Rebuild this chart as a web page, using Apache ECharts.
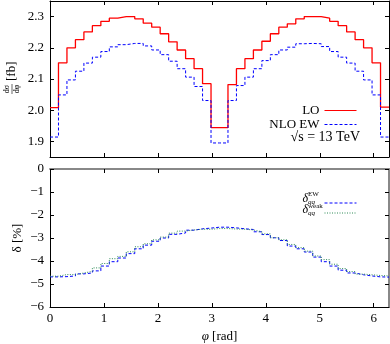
<!DOCTYPE html>
<html>
<head>
<meta charset="utf-8">
<script src="https://cdn.jsdelivr.net/npm/echarts@6/dist/echarts.min.js"></script>
<style>
  html, body { margin: 0; padding: 0; background: #fff; }
  #main { width: 390px; height: 344px; }
</style>
</head>
<body>
<div id="main"></div>
<script>
// 40 bins over 0..2pi
var nBins = 40;
var phiMax = 2 * Math.PI;

// dsigma/dphi [fb]
var loValues = [2.008, 2.152, 2.200, 2.226, 2.251, 2.271, 2.285, 2.295, 2.300, 2.300,
                2.293, 2.279, 2.266, 2.245, 2.219, 2.193, 2.165, 2.133, 2.085, 1.944,
                1.944, 2.082, 2.133, 2.165, 2.193, 2.221, 2.245, 2.266, 2.277, 2.293,
                2.300, 2.300, 2.295, 2.285, 2.271, 2.251, 2.226, 2.200, 2.152, 2.010];
var nloValues = [1.914, 2.049, 2.097, 2.125, 2.151, 2.170, 2.188, 2.203, 2.210, 2.214,
                 2.214, 2.206, 2.193, 2.178, 2.157, 2.133, 2.106, 2.076, 2.031, 1.895,
                 1.895, 2.031, 2.079, 2.106, 2.133, 2.159, 2.178, 2.193, 2.202, 2.213,
                 2.214, 2.213, 2.204, 2.188, 2.170, 2.151, 2.125, 2.097, 2.049, 1.914];

// relative corrections [%]
var ewValues = [-4.69, -4.68, -4.65, -4.56, -4.52, -4.43, -4.22, -4.03, -3.87, -3.68,
                -3.47, -3.31, -3.14, -3.00, -2.84, -2.78, -2.66, -2.60, -2.57, -2.53,
                -2.53, -2.56, -2.60, -2.63, -2.73, -2.85, -2.99, -3.11, -3.35, -3.47,
                -3.61, -3.83, -4.03, -4.22, -4.40, -4.52, -4.60, -4.65, -4.69, -4.70];
var weakValues = [-4.66, -4.59, -4.59, -4.52, -4.45, -4.30, -4.11, -3.90, -3.80, -3.60,
                  -3.38, -3.25, -3.08, -2.96, -2.79, -2.70, -2.65, -2.62, -2.62, -2.59,
                  -2.59, -2.61, -2.62, -2.65, -2.73, -2.82, -2.99, -3.08, -3.28, -3.42,
                  -3.57, -3.78, -3.94, -4.14, -4.33, -4.46, -4.57, -4.60, -4.63, -4.65];

// tick labels
var xTicks = [0, 1, 2, 3, 4, 5, 6];
var topYTicks = [1.9, 2.0, 2.1, 2.2, 2.3];
var bottomYTicks = [0, -1, -2, -3, -4, -5, -6];

var serif = 'Liberation Serif';

// histogram as step line: left edge of every bin + closing edge
function histData(vals) {
    var d = [];
    for (var i = 0; i < vals.length; i++) {
        d.push([i * phiMax / nBins, vals[i]]);
    }
    d.push([phiMax, vals[vals.length - 1]]);
    return d;
}

function xAx(grid, pos, labels, lineColor, lineWidth) {
    return {
        type: 'value', gridIndex: grid, position: pos, min: 0, max: phiMax,
        axisLine: { show: true, onZero: false, lineStyle: { color: lineColor || '#000', width: lineWidth || 1 } },
        axisTick: { show: true, inside: true, length: 4, customValues: xTicks, lineStyle: { color: '#000' } },
        axisLabel: { show: labels, customValues: xTicks, margin: 5, color: '#000', fontFamily: serif, fontSize: 13 },
        splitLine: { show: false }
    };
}

function yAx(grid, pos, min, max, ticks, labels, fmt, lineColor, lineWidth) {
    return {
        type: 'value', gridIndex: grid, position: pos, min: min, max: max,
        axisLine: { show: true, onZero: false, lineStyle: { color: lineColor || '#000', width: lineWidth || 1 } },
        axisTick: { show: true, inside: true, length: 4, customValues: ticks, lineStyle: { color: '#000' } },
        axisLabel: { show: labels, customValues: ticks, margin: 6, color: '#000', fontFamily: serif, fontSize: 13, formatter: fmt },
        splitLine: { show: false }
    };
}

var chart = echarts.init(document.getElementById('main'));

var option = {
    animation: false,
    backgroundColor: '#fff',
    grid: [
        { left: 50, right: 1, top: 1, height: 156 },
        { left: 50, right: 1, top: 169, height: 139 }
    ],
    xAxis: [
        xAx(0, 'bottom', false),
        xAx(0, 'top', false),
        Object.assign(xAx(1, 'bottom', true), {
            name: '{i|φ} [rad]', nameLocation: 'middle', nameGap: 23,
            nameTextStyle: { color: '#000', fontFamily: serif, fontSize: 13,
                rich: { i: { fontStyle: 'italic', fontFamily: serif, fontSize: 13 } } }
        }),
        xAx(1, 'top', false, '#888', 2)
    ],
    yAxis: [
        yAx(0, 'left', 1.85, 2.35, topYTicks, true, function (v) { return v.toFixed(1); }),
        yAx(0, 'right', 1.85, 2.35, topYTicks, false),
        yAx(1, 'left', -6, 0, bottomYTicks, true, function (v) { return v < 0 ? '\u2212' + (-v) : String(v); }),
        yAx(1, 'right', -6, 0, bottomYTicks, false, null, '#888', 2)
    ],
    legend: [
        {
            data: ['LO', 'NLO EW'], orient: 'vertical', right: 28, top: 99,
            align: 'right', itemWidth: 32, itemHeight: 10, itemGap: 1,
            itemStyle: { opacity: 0 }, lineStyle: { width: 1 },
            textStyle: { fontFamily: serif, fontSize: 13, color: '#000' }
        },
        {
            data: ['EW', 'weak'], orient: 'vertical', right: 28, top: 193,
            align: 'right', itemWidth: 32, itemHeight: 10, itemGap: 1,
            itemStyle: { opacity: 0 }, lineStyle: { width: 1 },
            formatter: function () { return ''; }
        }
    ],
    graphic: [
        {
            type: 'text', right: 30, top: 130,
            style: { text: '\u221As = 13 TeV', fontFamily: serif, fontSize: 14, fill: '#000' }
        },
        // dsigma/dphi label
        {
            type: 'group', x: 12, y: 94, rotation: Math.PI / 2,
            children: [
                { type: 'text', x: 5, y: -1, style: { text: 'dσ', fontFamily: serif, fontSize: 8, fill: '#000', align: 'center', verticalAlign: 'bottom' } },
                { type: 'line', shape: { x1: 0, y1: 0, x2: 10, y2: 0 }, style: { stroke: '#000', lineWidth: 0.6 } },
                { type: 'text', x: 5, y: 1, style: { text: 'dφ', fontFamily: serif, fontSize: 8, fill: '#000', align: 'center', verticalAlign: 'top' } },
                { type: 'text', x: 13, y: 0, style: { text: '[fb]', fontFamily: serif, fontSize: 13, fill: '#000', verticalAlign: 'middle' } }
            ]
        },
        // delta label
        {
            type: 'text', x: 18, y: 238, rotation: Math.PI / 2,
            style: { text: 'δ [%]', fontFamily: serif, fontSize: 13, fill: '#000', align: 'center', verticalAlign: 'middle' }
        },
        // legend labels of the lower panel
        { type: 'text', x: 308, y: 199, style: { text: 'δ', fontFamily: serif, fontStyle: 'italic', fontSize: 12, fill: '#000', align: 'right', verticalAlign: 'middle' } },
        { type: 'text', x: 308, y: 194, style: { text: 'EW', fontFamily: serif, fontSize: 7, fill: '#000', verticalAlign: 'middle' } },
        { type: 'text', x: 308, y: 202, style: { text: 'qq', fontFamily: serif, fontStyle: 'italic', fontSize: 7, fill: '#000', verticalAlign: 'middle' } },
        { type: 'text', x: 308, y: 210, style: { text: 'δ', fontFamily: serif, fontStyle: 'italic', fontSize: 12, fill: '#000', align: 'right', verticalAlign: 'middle' } },
        { type: 'text', x: 308, y: 206, style: { text: 'weak', fontFamily: serif, fontSize: 7, fill: '#000', verticalAlign: 'middle' } },
        { type: 'text', x: 308, y: 213, style: { text: 'qq', fontFamily: serif, fontStyle: 'italic', fontSize: 7, fill: '#000', verticalAlign: 'middle' } }
    ],
    series: [
        {
            name: 'LO', type: 'line', xAxisIndex: 0, yAxisIndex: 0, step: 'end',
            symbol: 'none', data: histData(loValues),
            lineStyle: { color: '#ff0000', width: 1.3 }, itemStyle: { color: '#ff0000' }
        },
        {
            name: 'NLO EW', type: 'line', xAxisIndex: 0, yAxisIndex: 0, step: 'end',
            symbol: 'none', data: histData(nloValues),
            lineStyle: { color: '#0000ff', width: 1, type: [3, 2] }, itemStyle: { color: '#0000ff' }
        },
        {
            name: 'EW', type: 'line', xAxisIndex: 2, yAxisIndex: 2, step: 'end',
            symbol: 'none', data: histData(ewValues),
            lineStyle: { color: '#0000ff', width: 1, type: [3, 2] }, itemStyle: { color: '#0000ff' }
        },
        {
            name: 'weak', type: 'line', xAxisIndex: 2, yAxisIndex: 2, step: 'end',
            symbol: 'none', data: histData(weakValues),
            lineStyle: { color: '#2e8b57', width: 1, type: [1, 1.5] }, itemStyle: { color: '#2e8b57' }
        }
    ]
};

chart.setOption(option);
</script>
</body>
</html>
